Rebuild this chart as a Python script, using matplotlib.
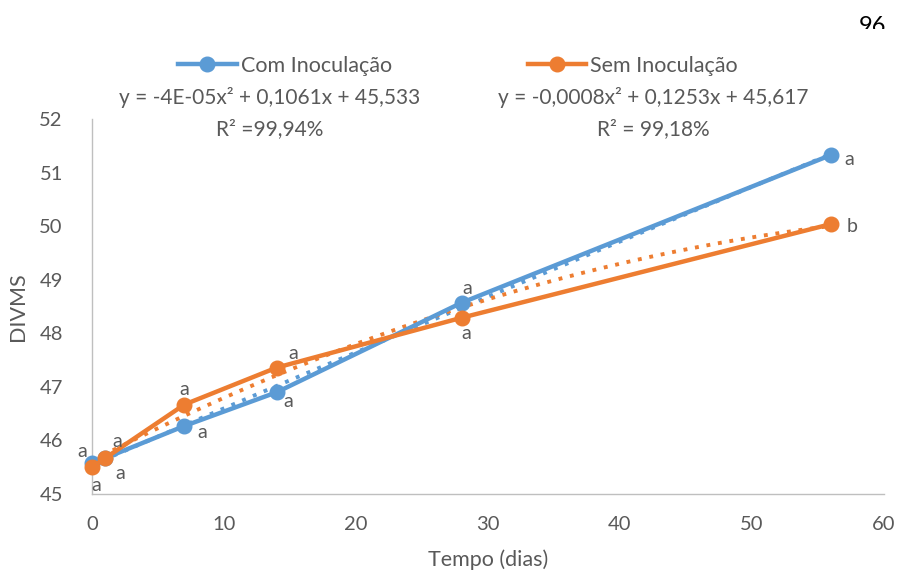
import numpy as np
import matplotlib
matplotlib.use("Agg")
import matplotlib.pyplot as plt
from matplotlib.patches import Rectangle

plt.rcParams['font.family'] = ['Lato', 'DejaVu Sans']

# data
dias = [0, 1, 7, 14, 28, 56]
com_inoc = [45.58, 45.67, 46.27, 46.90, 48.57, 51.33]
sem_inoc = [45.50, 45.67, 46.67, 47.36, 48.29, 50.04]
letras_com = ['a', 'a', 'a', 'a', 'a', 'a']
letras_sem = ['a', 'a', 'a', 'a', 'a', 'b']
eq_com = "y = -4E-05x² + 0,1061x + 45,533\nR² =99,94%"
eq_sem = "y = -0,0008x² + 0,1253x + 45,617\nR² = 99,18%"

blue = "#5B9BD5"
orange = "#ED7D31"
grey = "#595959"

fig = plt.figure(figsize=(9.05, 5.79), dpi=100)
ax = fig.add_axes([92/905, 1 - 494/579, (884-92)/905, (494-119)/579])

ax.plot(dias, com_inoc, color=blue, lw=3.2, marker='o', ms=10.5, label="Com Inoculação", zorder=4)
ax.plot(dias, sem_inoc, color=orange, lw=3.2, marker='o', ms=10.5, label="Sem Inoculação", zorder=5)

# polynomial trend lines (2nd order)
xs = np.linspace(0, 56, 200)
p_com = np.polyfit(dias, com_inoc, 2)
p_sem = np.polyfit(dias, sem_inoc, 2)
ax.plot(xs, np.polyval(p_com, xs), color=blue, lw=2.8, ls=(0, (1, 2)), zorder=3)
ax.plot(xs, np.polyval(p_sem, xs), color=orange, lw=2.8, ls=(0, (1, 2)), zorder=3)

# letters next to points
off_com = [(-7, 8), (11, -11), (13, -5), (8, -7), (4, 10), (13, -3)]
off_sem = [(3, -13), (9, 12), (0, 11), (12, 10), (3, -11), (15, -2)]
for x, y, t, o in zip(dias, com_inoc, letras_com, off_com):
    ax.annotate(t, (x, y), xytext=o, textcoords='offset points', ha='center', va='center',
                fontsize=14, color=grey, zorder=6)
for x, y, t, o in zip(dias, sem_inoc, letras_sem, off_sem):
    ax.annotate(t, (x, y), xytext=o, textcoords='offset points', ha='center', va='center',
                fontsize=14, color=grey, zorder=6)

ax.set_xlim(0, 60)
ax.set_ylim(45, 52)
ax.set_xticks(range(0, 61, 10))
ax.set_yticks(range(45, 53))
ax.tick_params(length=0, labelsize=14.5, labelcolor=grey, pad=16)
ax.tick_params(axis='y', pad=21)
for s in ['top', 'right']:
    ax.spines[s].set_visible(False)
for s in ['left', 'bottom']:
    ax.spines[s].set_color("#BFBFBF")
    ax.spines[s].set_linewidth(1)
for l in ax.lines:
    l.set_clip_on(False)

ax.set_xlabel("Tempo (dias)", fontsize=15.5, color=grey, labelpad=12)
ax.set_ylabel("DIVMS", fontsize=15.5, color=grey, labelpad=8)

fig.legend(loc='center', bbox_to_anchor=(458/905, 1 - 66/579), ncol=2, frameon=False,
           fontsize=15.5, handlelength=2.7, columnspacing=6.3, handletextpad=0.2, labelcolor=grey)

fig.text(270/905, 1 - 113/579, eq_com, ha='center', va='center', fontsize=15, color=grey, linespacing=1.7)
fig.text(653/905, 1 - 113/579, eq_sem, ha='center', va='center', fontsize=15, color=grey, linespacing=1.7)

# page number, cut at the bottom like the scan
fig.text(872/905, 1 - 16/579, "96", ha='center', va='top', fontsize=17, color='black')
fig.patches.append(Rectangle((0.9, 1 - 60/579), 0.1, 31/579, transform=fig.transFigure,
                             facecolor='white', edgecolor='none', zorder=10))

fig.savefig("out.png", dpi=100)
